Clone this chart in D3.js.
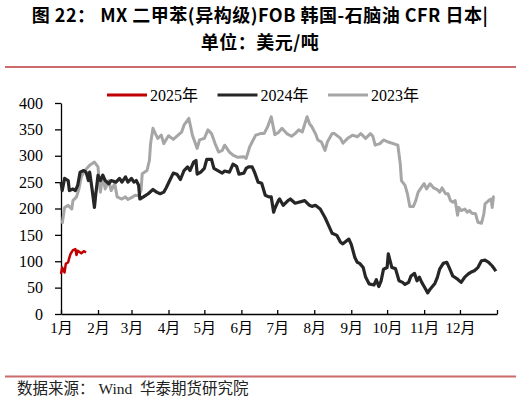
<!DOCTYPE html>
<html>
<head>
<meta charset="utf-8">
<script src="https://cdn.jsdelivr.net/npm/d3@7"></script>
<style>
  body { margin: 0; background: #fff; }
  svg { display: block; }
</style>
</head>
<body>
<svg id="chart"></svg>
<script>
const width = 521;
const height = 405;

// day offsets from Jan 1 and values (USD/t)
const days2023 = [
  1, 3, 6, 9, 10, 13, 15, 17, 20, 24,
  28, 31, 32, 33, 35, 37, 40, 42, 45, 47,
  51, 54, 56, 60, 62, 65, 67, 68, 72, 74,
  75, 77, 79, 81, 84, 86, 90, 94, 98, 101,
  103, 107, 110, 114, 116, 120, 123, 126, 129, 132,
  135, 137, 141, 144, 148, 153, 155, 158, 160, 163,
  167, 170, 173, 176, 179, 182, 185, 189, 193, 196,
  199, 202, 206, 208, 210, 213, 215, 218, 221, 223,
  227, 229, 234, 236, 240, 244, 248, 251, 255, 259,
  261, 263, 267, 270, 274, 282, 284, 285, 288, 290,
  292, 295, 297, 299, 302, 304, 306, 309, 312, 315,
  317, 319, 322, 324, 326, 328, 330, 332, 333, 335,
  338, 340, 342, 344, 347, 349, 352, 354, 355, 358,
  360, 361, 362, 363
];
const vals2023 = [
  171, 202, 206, 199, 215, 222, 237, 260, 272, 282,
  288, 279, 248, 231, 263, 237, 253, 234, 247, 222,
  218, 222, 217, 222, 225, 224, 234, 266, 272, 291,
  323, 352, 342, 333, 339, 323, 338, 331, 339, 345,
  358, 371, 339, 314, 330, 333, 349, 342, 323, 307,
  310, 320, 307, 301, 297, 298, 295, 317, 326, 339,
  342, 342, 355, 374, 340, 344, 352, 342, 337, 342,
  349, 345, 374, 361, 355, 342, 330, 326, 310, 326,
  342, 342, 333, 324, 333, 339, 336, 342, 333, 342,
  337, 320, 323, 330, 326, 320, 285, 253, 244, 228,
  204, 204, 215, 231, 241, 247, 237, 247, 239, 236,
  231, 239, 228, 228, 215, 212, 215, 187, 202, 196,
  199, 193, 196, 191, 190, 174, 172, 190, 209, 215,
  218, 202, 222, 223
];

const days2024 = [
  0, 1, 3, 6, 7, 10, 12, 14, 16, 19,
  21, 23, 24, 26, 28, 29, 31, 33, 35, 37,
  40, 42, 46, 49, 51, 54, 56, 59, 61, 63,
  65, 66, 69, 73, 77, 80, 83, 86, 88, 91,
  94, 97, 100, 103, 106, 108, 111, 113, 114, 117,
  120, 122, 126, 128, 132, 135, 137, 141, 144, 147,
  149, 153, 155, 157, 160, 162, 165, 168, 171, 174,
  176, 178, 179, 182, 183, 186, 190, 192, 196, 204,
  208, 210, 213, 217, 221, 224, 227, 231, 234, 236,
  241, 243, 246, 248, 250, 253, 255, 258, 262, 264,
  266, 268, 270, 273, 274, 277, 280, 283, 286, 288,
  291, 293, 296, 298, 300, 302, 304, 307, 309, 313,
  315, 317, 320, 323, 325, 328, 332, 335, 338, 341,
  343, 346, 349, 352, 355, 358, 361, 363, 364
];
const vals2024 = [
  250, 234, 257, 253, 234, 237, 234, 244, 269, 272,
  269, 253, 269, 237, 202, 225, 263, 253, 263, 253,
  247, 253, 250, 257, 250, 260, 250, 257, 250, 253,
  244, 218, 222, 228, 236, 231, 228, 231, 239, 253,
  267, 265, 255, 272, 279, 272, 288, 291, 265, 269,
  276, 293, 293, 276, 271, 267, 271, 269, 284, 280,
  265, 267, 276, 279, 279, 269, 250, 248, 225, 222,
  222, 193, 200, 215, 218, 206, 215, 218, 210, 215,
  206, 204, 206, 199, 183, 168, 153, 149, 136, 133,
  142, 132, 107, 98, 96, 88, 70, 57, 55, 65,
  52, 63, 85, 88, 114, 88, 86, 63, 60, 56,
  60, 72, 77, 63, 70, 60, 52, 40, 47, 58,
  69, 85, 96, 98, 88, 72, 66, 60, 70, 76,
  79, 82, 88, 101, 102, 98, 91, 85, 81
];

const days2025 = [0, 1, 3, 4, 6, 7, 8, 10, 12, 13, 14, 17, 19, 21];
const vals2025 = [76, 88, 79, 95, 98, 107, 114, 121, 123, 112, 120, 115, 119, 117];

const seriesNames = ["2025年", "2024年", "2023年"];
const seriesColors = ["#c00000", "#262626", "#a6a6a6"];
const yTicks = [0, 50, 100, 150, 200, 250, 300, 350, 400];

const titleLines = ["图 22： MX 二甲苯(异构级)FOB 韩国-石脑油 CFR 日本|", "单位：美元/吨"];
const sourceText = "数据来源： Wind  华泰期货研究院";

const base = new Date(2023, 0, 1);
const end = new Date(2024, 0, 1);

const toPoints = (days, vals) =>
  days.map((d, i) => ({ date: d3.timeDay.offset(base, d), value: vals[i] }));

const series = [
  { name: seriesNames[2], color: seriesColors[2], width: 3, data: toPoints(days2023, vals2023) },
  { name: seriesNames[1], color: seriesColors[1], width: 3.2, data: toPoints(days2024, vals2024) },
  { name: seriesNames[0], color: seriesColors[0], width: 2.5, data: toPoints(days2025, vals2025) },
];

const svg = d3.select("#chart").attr("width", width).attr("height", height);

// title
svg
  .selectAll(".title")
  .data(titleLines)
  .enter()
  .append("text")
  .attr("class", "title")
  .attr("x", 260)
  .attr("y", (d, i) => 22 + i * 27)
  .attr("text-anchor", "middle")
  .attr("font-family", "'Noto Sans CJK SC', sans-serif")
  .attr("font-weight", "bold")
  .attr("font-size", 18)
  .attr("letter-spacing", 0.5)
  .attr("fill", "#000")
  .style("white-space", "pre")
  .text((d) => d);

// red rules
[67, 376.5].forEach((y) => {
  svg
    .append("line")
    .attr("x1", 5)
    .attr("x2", 516)
    .attr("y1", y)
    .attr("y2", y)
    .attr("stroke", "#cc6b6b")
    .attr("stroke-width", 1.8);
});

// scales
const xScale = d3.scaleTime().domain([base, end]).range([61, 497]);
const yScale = d3.scaleLinear().domain([0, 400]).range([314, 103]);

const serif = "'Liberation Serif', 'Times New Roman', 'Noto Sans CJK SC', serif";

// axes
const xAxis = d3
  .axisBottom(xScale)
  .tickValues(d3.timeMonth.range(base, d3.timeDay.offset(end, 1)))
  .tickSizeInner(-4)
  .tickSizeOuter(0)
  .tickPadding(8)
  .tickFormat((d) => (d < end ? `${d.getMonth() + 1}月` : ""));

const gx = svg
  .append("g")
  .attr("transform", `translate(0, ${yScale(0)})`)
  .call(xAxis);

const yAxis = d3
  .axisLeft(yScale)
  .tickValues(yTicks)
  .tickSizeInner(6)
  .tickSizeOuter(0)
  .tickPadding(12);

const gy = svg
  .append("g")
  .attr("transform", `translate(${xScale(base)}, 0)`)
  .call(yAxis);

[gx, gy].forEach((g) => {
  g.selectAll("path, line").attr("stroke", "#000").attr("stroke-width", 1.3);
  g.selectAll("text")
    .attr("font-family", serif)
    .attr("fill", "#000");
});
gx.selectAll("text").attr("font-size", 15);
gy.selectAll("text").attr("font-size", 16);

// lines
const line = d3
  .line()
  .x((d) => xScale(d.date))
  .y((d) => yScale(d.value));

svg
  .selectAll(".series")
  .data(series)
  .enter()
  .append("path")
  .attr("class", "series")
  .attr("fill", "none")
  .attr("stroke", (d) => d.color)
  .attr("stroke-width", (d) => d.width)
  .attr("stroke-linejoin", "round")
  .attr("d", (d) => line(d.data));

// legend
const legend = svg
  .selectAll(".legend")
  .data(seriesNames)
  .enter()
  .append("g")
  .attr("class", "legend")
  .attr("transform", (d, i) => `translate(${107 + i * 110.5}, 95)`);

legend
  .append("line")
  .attr("x1", 0)
  .attr("x2", 40)
  .attr("stroke", (d, i) => seriesColors[i])
  .attr("stroke-width", 3);

legend
  .append("text")
  .attr("x", 43)
  .attr("y", 5.5)
  .attr("font-family", serif)
  .attr("font-size", 16)
  .attr("fill", "#000")
  .text((d) => d);

// source
svg
  .append("text")
  .attr("x", 17)
  .attr("y", 394)
  .attr("font-family", serif)
  .attr("font-size", 15.5)
  .attr("fill", "#222")
  .style("white-space", "pre")
  .text(sourceText);
</script>
</body>
</html>
